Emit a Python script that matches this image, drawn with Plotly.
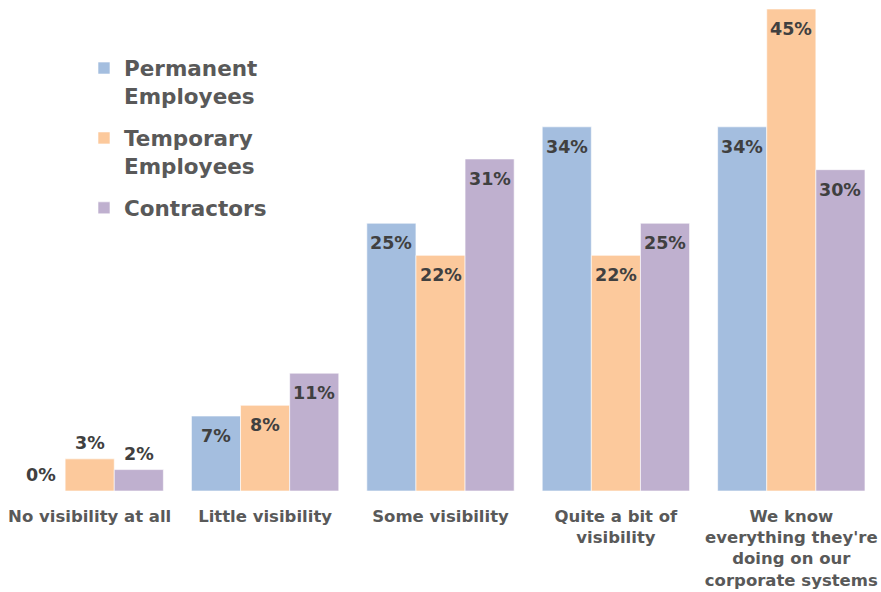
import plotly.graph_objects as go

categories = [
    "No visibility at all",
    "Little visibility",
    "Some visibility",
    "Quite a bit of<br>visibility",
    "We know<br>everything they're<br>doing on our<br>corporate systems",
]
series_names = ["Permanent<br>Employees", "Temporary<br>Employees", "Contractors"]
permanent = [0, 7, 25, 34, 34]
temporary = [3, 8, 22, 22, 45]
contractors = [2, 11, 31, 25, 30]
colors = ["#A4BEDF", "#FCC99C", "#BFB0CF"]

FONT = "DejaVu Sans"
BARGAP = 0.16
series = [permanent, temporary, contractors]

fig = go.Figure()
for name, vals, col in zip(series_names, series, colors):
    fig.add_trace(go.Bar(
        x=categories, y=vals, name=name,
        marker=dict(color=col, line=dict(color="white", width=0.6)),
        legendgroup=name,
    ))

# value labels: inside near the top of tall bars, just above short ones
bar_w = (1 - BARGAP) / len(series)
for j, vals in enumerate(series):
    offset = (j - (len(series) - 1) / 2) * bar_w
    for i, v in enumerate(vals):
        inside = v >= 5
        fig.add_annotation(
            x=i + offset, y=v, xref="x", yref="y",
            text=f"{v}%", showarrow=False,
            xanchor="center", yanchor="middle",
            yshift=-20 if inside else 16,
            font=dict(family=FONT, size=17.5, color="#404040", weight="bold"),
        )

fig.update_layout(
    width=881, height=592,
    margin=dict(l=2, r=2, t=9, b=101, autoexpand=False),
    paper_bgcolor="white", plot_bgcolor="white",
    barmode="group", bargap=BARGAP, bargroupgap=0,
    showlegend=True,
    legend=dict(
        x=0.0935, y=0.92, xanchor="left", yanchor="top",
        font=dict(family=FONT, size=21.5, color="#595959", weight="bold"),
        valign="top", traceorder="grouped", tracegroupgap=11,
        bgcolor="rgba(0,0,0,0)", itemwidth=30,
    ),
    xaxis=dict(
        showgrid=False, showline=False, zeroline=False, ticks="",
        automargin=False, ticklabelstandoff=13,
        tickfont=dict(family=FONT, size=16.5, color="#595959", weight="bold"),
    ),
    yaxis=dict(range=[0, 45], visible=False, showgrid=False, zeroline=False,
               automargin=False),
)

fig.write_html("out.html")
